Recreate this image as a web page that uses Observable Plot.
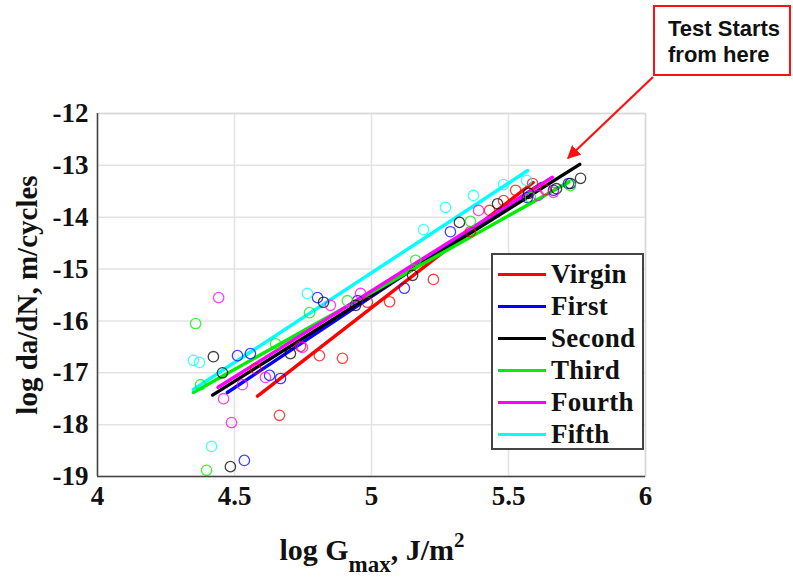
<!DOCTYPE html>
<html>
<head>
<meta charset="utf-8">
<script src="https://cdn.jsdelivr.net/npm/d3@7"></script>
<script src="https://cdn.jsdelivr.net/npm/@observablehq/plot@0.6"></script>
<style>
  html, body { margin: 0; padding: 0; background: #fff; }
  #wrap { position: relative; width: 793px; height: 577px; overflow: hidden; background: #fff; }
  #chart { position: absolute; left: 0; top: 0; }
  .ser { font-family: "Liberation Serif", "DejaVu Serif", serif; font-weight: bold; color: #111; }
  #ylabel { position: absolute; left: 27px; top: 295px; transform: translate(-50%, -50%) rotate(-90deg); font-size: 29px; white-space: nowrap; }
  #xlabel { position: absolute; left: 372px; top: 530px; transform: translateX(-50%); font-size: 30px; white-space: nowrap; line-height: 1; }
  #xlabel sub { font-size: 23px; vertical-align: -12px; }
  #xlabel sup { font-size: 21px; vertical-align: 13px; }
  #legend { position: absolute; left: 491px; top: 253px; width: 149px; height: 193px; border: 2px solid #444; background: #fff; box-sizing: content-box; }
  .lrow { position: absolute; left: 5px; height: 32px; display: flex; align-items: center; }
  .lline { width: 48px; height: 3px; margin-right: 5px; }
  .ltext { font-size: 27px; letter-spacing: 0.3px; }
  #note { position: absolute; left: 653px; top: 5px; width: 134px; height: 67px; border: 2px solid #ff1010; background: #fff; font-family: Arial, "Liberation Sans", sans-serif; font-weight: bold; font-size: 22px; line-height: 26px; color: #111; padding: 0; }
  #note div { position: absolute; left: 13px; white-space: nowrap; }
  #arrow { position: absolute; left: 0; top: 0; pointer-events: none; }
</style>
</head>
<body>
<div id="wrap">
  <div id="chart"></div>
  <div id="ylabel" class="ser">log da/dN, m/cycles</div>
  <div id="xlabel" class="ser">log G<sub>max</sub>, J/m<sup>2</sup></div>
  <div id="legend" class="ser"></div>
  <div id="note"><div style="top:9px">Test Starts</div><div style="top:35px">from here</div></div>
  <svg id="arrow" width="793" height="577">
    <defs>
      <marker id="ah" viewBox="0 0 10 10" refX="9" refY="5" markerWidth="6" markerHeight="6" orient="auto-start-reverse">
        <path d="M0,0 L10,5 L0,10 z" fill="#ff1010"></path>
      </marker>
    </defs>
    <line x1="653" y1="77" x2="568" y2="158" stroke="#ff1010" stroke-width="2.2" marker-end="url(#ah)"></line>
  </svg>
</div>
<script>
// ---- Data ----
const seriesNames = ["Virgin", "First", "Second", "Third", "Fourth", "Fifth"];
const seriesColors = ["#ff0000", "#0000ff", "#000000", "#00ee00", "#ff00ff", "#00ffff"];

const xTicks = [4, 4.5, 5, 5.5, 6];
const yTicks = [-19, -18, -17, -16, -15, -14, -13, -12];

// scatter points: [log Gmax, log da/dN]
const virginPts = [[4.577,-16.92],[4.664,-17.82],[4.741,-16.49],[4.810,-16.67],[4.894,-16.72],[4.985,-15.64],[5.066,-15.63],[5.226,-15.20],[5.361,-14.28],[5.431,-13.87],[5.482,-13.68],[5.526,-13.48],[5.588,-13.35],[5.635,-13.47]];
const firstPts = [[4.511,-16.67],[4.558,-16.63],[4.628,-17.05],[4.668,-17.11],[4.536,-18.69],[4.803,-15.55],[4.949,-15.61],[5.120,-15.37],[5.288,-14.28],[5.569,-13.62],[5.664,-13.48],[5.719,-13.35]];
const secondPts = [[4.485,-18.81],[4.423,-16.69],[4.456,-17.00],[4.704,-16.63],[4.825,-15.64],[4.942,-15.70],[5.150,-15.12],[5.321,-14.10],[5.460,-13.74],[5.573,-13.54],[5.675,-13.45],[5.726,-13.35],[5.763,-13.25]];
const thirdPts = [[4.398,-18.88],[4.358,-16.05],[4.376,-17.23],[4.650,-16.44],[4.774,-15.84],[4.912,-15.61],[5.161,-14.83],[5.361,-14.08],[5.580,-13.62],[5.726,-13.39]];
const fourthPts = [[4.442,-15.55],[4.460,-17.50],[4.489,-17.96],[4.529,-17.23],[4.613,-17.09],[4.748,-16.51],[4.850,-15.70],[4.960,-15.47],[5.391,-13.87],[5.609,-13.58],[5.664,-13.52]];
const fifthPts = [[4.350,-16.76],[4.372,-16.80],[4.416,-18.42],[4.766,-15.47],[5.190,-14.24],[5.270,-13.81],[5.372,-13.58],[5.482,-13.37],[5.566,-13.29]];

// fitted lines: [[x0,y0],[x1,y1]]
const virginFit = [[4.584,-17.45],[5.59,-13.33]];
const firstFit = [[4.474,-17.38],[5.62,-13.35]];
const secondFit = [[4.42,-17.43],[5.76,-12.98]];
const thirdFit = [[4.35,-17.38],[5.72,-13.32]];
const fourthFit = [[4.44,-17.28],[5.66,-13.23]];
const fifthFit = [[4.35,-17.32],[5.57,-13.10]];

const allPts = [virginPts, firstPts, secondPts, thirdPts, fourthPts, fifthPts];
const allFits = [virginFit, firstFit, secondFit, thirdFit, fourthFit, fifthFit];

const points = allPts.flatMap((arr, i) => arr.map(([x, y]) => ({x, y, s: seriesNames[i]})));
const fits = allFits.flatMap((arr, i) => arr.map(([x, y]) => ({x, y, s: seriesNames[i]})));

const serif = "'Liberation Serif', 'DejaVu Serif', serif";

const plot = Plot.plot({
  width: 793,
  height: 577,
  marginLeft: 97,
  marginRight: 148,
  marginTop: 113,
  marginBottom: 101,
  style: {fontFamily: serif, fontSize: "27px", fontWeight: "bold", color: "#111", background: "#fff"},
  x: {domain: [4, 6], ticks: xTicks, label: null},
  y: {domain: [-19, -12], ticks: yTicks, label: null},
  color: {domain: seriesNames, range: seriesColors},
  marks: [
    Plot.gridX(xTicks, {stroke: "#e3e3e3", strokeOpacity: 1, strokeWidth: 1.5}),
    Plot.gridY(yTicks, {stroke: "#e3e3e3", strokeOpacity: 1, strokeWidth: 1.5}),
    Plot.frame({stroke: "#d8d8d8", strokeWidth: 1.5}),
    Plot.ruleX([4], {stroke: "#444", strokeWidth: 1.5}),
    Plot.ruleY([-19], {stroke: "#444", strokeWidth: 1.5}),
    Plot.axisX({ticks: xTicks, tickSize: 0, tickPadding: 9, tickFormat: d => String(d), fontSize: 27, fontWeight: "bold", fontFamily: serif}),
    Plot.axisY({ticks: yTicks, tickSize: 0, tickPadding: 9, tickFormat: d => String(d), fontSize: 27, fontWeight: "bold", fontFamily: serif}),
    Plot.line(fits, {x: "x", y: "y", z: "s", stroke: "s", strokeWidth: 3.4}),
    Plot.dot(points, {x: "x", y: "y", stroke: "s", r: 5.2, strokeWidth: 1.3, strokeOpacity: 0.75, fill: "none"})
  ]
});
document.getElementById("chart").appendChild(plot);

// legend
const leg = document.getElementById("legend");
seriesNames.forEach((name, i) => {
  const row = document.createElement("div");
  row.className = "lrow";
  row.style.top = (3 + i * 32) + "px";
  const ln = document.createElement("div");
  ln.className = "lline";
  ln.style.background = seriesColors[i];
  const tx = document.createElement("span");
  tx.className = "ltext";
  tx.textContent = name;
  row.appendChild(ln);
  row.appendChild(tx);
  leg.appendChild(row);
});
</script>
</body>
</html>
